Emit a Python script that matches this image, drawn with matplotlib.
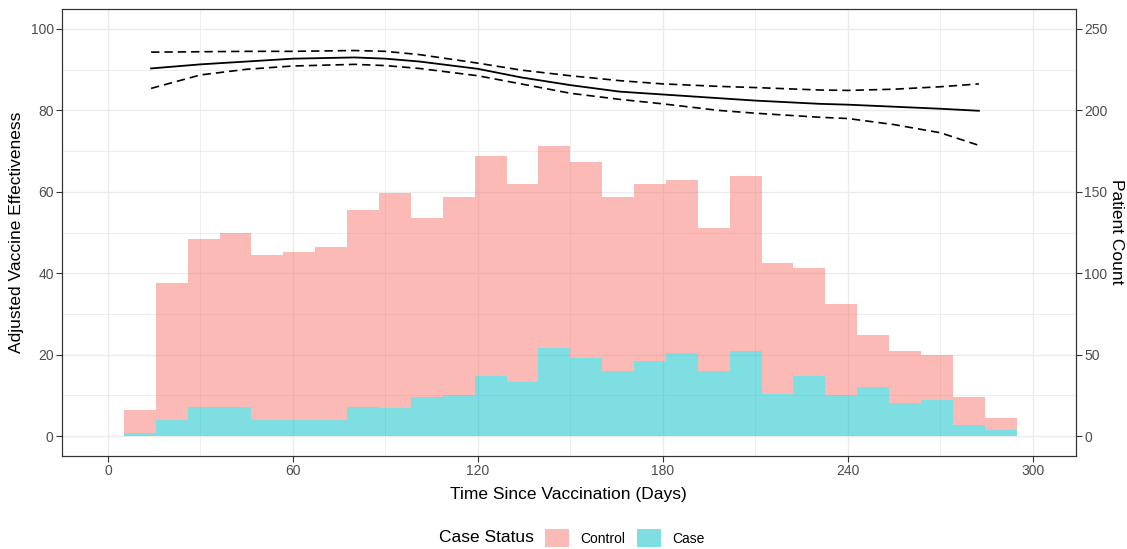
import numpy as np
import matplotlib.pyplot as plt
from matplotlib.patches import Patch

plt.rcParams['font.family'] = ['Liberation Sans', 'DejaVu Sans']

# histogram bins (days since vaccination)
bin_start = 5.2
bin_width = 10.34
control = [14, 84, 103, 107, 101, 103, 106, 121, 132, 110, 122, 135, 122, 124,
           120, 107, 109, 106, 88, 108, 80, 66, 56, 32, 32, 28, 17, 7]
case = [2, 10, 18, 18, 10, 10, 10, 18, 17, 24, 25, 37, 33, 54,
        48, 40, 46, 51, 40, 52, 26, 37, 25, 30, 20, 22, 7, 4]

# adjusted VE curve with confidence band
ve_days = [14, 30, 45, 60, 80, 90, 101, 120, 134, 150, 166, 180, 198, 210, 231, 240, 255, 270, 282.5]
ve_est = [90.3, 91.3, 92.0, 92.7, 93.0, 92.7, 92.0, 90.2, 88.1, 86.2, 84.6, 83.9, 83.0, 82.4, 81.6, 81.4, 80.9, 80.4, 79.9]
ve_upper = [94.3, 94.4, 94.5, 94.5, 94.7, 94.5, 93.7, 91.6, 89.9, 88.5, 87.3, 86.5, 85.9, 85.6, 85.0, 84.9, 85.2, 85.8, 86.5]
ve_lower = [85.4, 88.7, 90.1, 90.9, 91.3, 91.0, 90.3, 88.5, 86.5, 84.2, 82.7, 81.6, 80.0, 79.3, 78.3, 78.0, 76.5, 74.5, 71.4]

scale = 2.5  # 100 % VE == 250 patients

pink = "#F8766D"
cyan = "#00BFC4"
tick_col = "#4D4D4D"
grid_col = "#EBEBEB"

W, H = 1127, 549
fig = plt.figure(figsize=(W / 100, H / 100), dpi=100)
ax = fig.add_axes([62 / W, 1 - 456 / H, (1076 - 62) / W, (456 - 9) / H])

ylim = (-4.9, 104.9)
ax.set_xlim(-14.9, 314)
ax.set_ylim(*ylim)

# grid, theme_bw style
ax.set_xticks([0, 60, 120, 180, 240, 300])
ax.set_xticks([30, 90, 150, 210, 270], minor=True)
ax.set_yticks([0, 20, 40, 60, 80, 100])
ax.set_yticks([10, 30, 50, 70, 90], minor=True)
ax.grid(which="major", color=grid_col, lw=1.0)
ax.grid(which="minor", color=grid_col, lw=0.6)
ax.set_axisbelow(True)
ax.tick_params(which="minor", length=0)
ax.tick_params(which="major", length=4, width=0.8, color="#333333",
               labelcolor=tick_col, labelsize=10, pad=2)
for s in ax.spines.values():
    s.set_color("#333333")
    s.set_linewidth(0.8)

# VE lines on the left axis
ax.plot(ve_days, ve_est, color="black", lw=1.3, zorder=3)
ax.plot(ve_days, ve_upper, color="black", lw=1.2, ls=(0, (5, 3)), zorder=3)
ax.plot(ve_days, ve_lower, color="black", lw=1.2, ls=(0, (5, 3)), zorder=3)

# stacked histogram on the right axis
ax2 = ax.twinx()
ax2.set_ylim(ylim[0] * scale, ylim[1] * scale)
ax2.set_yticks([0, 50, 100, 150, 200, 250])
edges = bin_start + bin_width * np.arange(len(case))
ax2.bar(edges, case, width=bin_width, align="edge", color=cyan, alpha=0.5,
        lw=0, label="Case")
ax2.bar(edges, control, width=bin_width, bottom=case, align="edge", color=pink,
        alpha=0.5, lw=0, label="Control")
ax2.tick_params(length=4, width=0.8, color="#333333", labelcolor=tick_col,
                labelsize=10, pad=2)
for s in ax2.spines.values():
    s.set_color("#333333")
    s.set_linewidth(0.8)

# axis titles
fig.text(568 / W, 1 - 495 / H, "Time Since Vaccination (Days)", fontsize=12.5,
         ha="center", va="center")
fig.text(17 / W, 1 - 232 / H, "Adjusted Vaccine Effectiveness", fontsize=12.5,
         ha="center", va="center", rotation=90)
fig.text(1117 / W, 1 - 232 / H, "Patient Count", fontsize=12.5,
         ha="center", va="center", rotation=-90)

# legend below the panel
fig.text(439 / W, 1 - 538 / H, "Case Status", fontsize=12.5,
         ha="left", va="center")
handles = [Patch(facecolor=pink, alpha=0.5, lw=0, label="Control"),
           Patch(facecolor=cyan, alpha=0.5, lw=0, label="Case")]
fig.legend(handles=handles, loc="center left",
           bbox_to_anchor=(541 / W, 1 - 538 / H), ncol=2, frameon=False,
           fontsize=10, handlelength=1.7, handleheight=1.7,
           handletextpad=0.8, columnspacing=0.9, borderaxespad=0,
           borderpad=0.3)

fig.savefig("out.png", dpi=100)
